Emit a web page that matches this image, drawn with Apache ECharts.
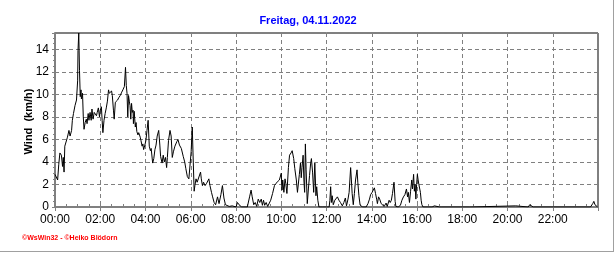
<!DOCTYPE html>
<html>
<head>
<meta charset="utf-8">
<script src="https://cdn.jsdelivr.net/npm/echarts@6/dist/echarts.min.js"></script>
<style>
html,body{margin:0;padding:0;background:#fff;}
#chart{width:616px;height:253px;}
</style>
</head>
<body>
<div id="chart"></div>
<script>
const titleText = 'Freitag, 04.11.2022';
const yAxisTitle = 'Wind  (km/h)';
const footerText = '\u00A9WsWin32 - \u00A9Heiko Bl\u00F6dorn';
const timeLabels = ['00:00','02:00','04:00','06:00','08:00','10:00','12:00','14:00','16:00','18:00','20:00','22:00'];
const yTickLabels = ['0','2','4','6','8','10','12','14'];

// time of day in minutes
const minutes = [
  0,3,7,10,13,17,20,22,24,26,30,33,37,40,44,46,49,53,57,60,61,63,65,67,69,70,73,75,77,80,
  83,85,88,90,93,96,98,101,104,107,110,112,115,118,120,123,125,127,130,133,136,139,142,144,147,150,152,155,157,160,
  163,166,169,173,177,180,184,187,189,191,193,195,197,199,201,203,205,207,208,210,213,215,217,220,222,226,228,231,233,235,
  237,241,244,247,250,253,255,259,262,265,268,271,275,278,280,284,287,290,293,296,298,301,305,308,311,314,318,323,326,330,
  335,340,344,347,351,355,359,361,364,366,369,371,374,377,381,386,388,391,394,398,402,408,411,415,418,422,426,431,435,440,
  444,448,452,456,462,470,475,480,484,488,495,510,516,520,523,527,531,535,539,543,547,550,553,556,560,564,568,572,577,582,
  586,590,595,600,602,604,607,610,612,615,619,622,626,629,633,636,640,643,645,648,651,653,655,658,660,662,664,666,669,672,
  675,678,680,683,686,689,692,694,697,700,710,720,727,729,731,733,735,738,742,749,753,757,762,766,770,773,777,780,782,784,
  786,788,791,794,797,801,803,806,809,815,825,830,834,837,841,844,847,850,853,855,858,861,865,869,873,878,881,886,889,892,
  895,899,902,904,910,916,920,924,928,932,935,937,940,943,946,948,951,953,955,957,959,961,963,965,967,969,971,973,976,1000,
  1006,1010,1020,1023,1026,1100,1222,1226,1255,1259,1264,1268,1420,1426,1429,1432,1439
];
// wind speed km/h
const wind = [
  2.9,2.8,2.4,3.8,4.8,4.6,3.6,4.4,3.1,5.4,5.4,6.2,6.8,6.3,6.8,7.7,8.3,9.0,9.5,11.2,13.9,15.45,12.1,9.8,10.4,9.6,10.1,8.0,6.9,7.5,
  7.8,7.4,8.3,7.7,8.4,7.7,8.7,7.8,8.4,8.5,8.1,8.4,8.8,8.0,8.6,8.9,7.7,6.6,7.7,8.3,8.8,9.4,10.4,10.1,10.2,10.3,9.9,8.6,7.8,9.3,
  9.2,9.5,9.7,9.9,10.2,10.4,10.7,12.4,10.8,10.1,8.0,9.9,9.4,9.0,7.8,9.2,8.4,8.6,7.4,8.5,7.1,7.5,6.7,6.4,6.6,6.2,5.9,5.4,5.6,5.1,
  5.3,5.9,6.8,7.7,5.4,5.0,5.2,3.9,4.3,5.1,5.5,6.3,6.8,5.5,4.5,3.9,4.6,4.0,4.4,3.5,4.4,5.9,6.8,6.3,4.4,4.9,5.4,5.8,6.0,5.5,
  5.2,4.5,4.0,3.4,2.7,2.5,2.5,4.9,7.1,4.8,1.4,1.9,2.5,2.2,2.3,3.1,2.5,1.9,2.2,1.9,2.1,2.5,1.9,1.3,0.9,0.4,0.2,0.9,0.3,1.1,
  1.9,0.8,0.2,0.1,0.05,0.1,0.1,0.0,0.4,0.2,0.0,0.0,0.9,1.5,0.9,0.2,0.4,0.05,0.7,0.4,0.7,0.15,0.6,0.15,0.4,0.05,0.1,0.6,1.2,1.9,
  2.1,2.0,2.4,3.0,1.5,2.4,1.3,2.5,2.1,1.2,3.5,4.6,4.8,5.0,4.3,3.4,2.4,1.3,1.4,2.9,3.9,2.6,3.5,4.6,2.4,1.3,5.6,3.3,0.3,1.6,
  2.8,3.9,4.3,3.1,1.3,3.9,1.0,1.8,0.6,0.0,0.0,0.0,0.0,0.6,1.8,0.4,1.0,0.2,0.6,0.9,0.6,0.4,0.1,0.4,0.8,0.1,0.7,1.3,2.4,3.5,
  2.4,1.2,0.2,1.2,2.4,3.3,2.2,1.0,0.2,0.0,0.0,0.3,0.7,1.1,1.3,1.5,1.7,1.2,0.7,0.3,0.9,0.7,0.3,0.15,0.05,0.35,0.05,0.6,0.4,0.6,
  1.2,2.2,0.5,0.05,0.0,0.15,0.6,0.9,1.1,1.6,0.9,1.3,0.4,1.4,2.4,1.6,2.9,1.4,2.0,0.7,2.0,2.9,2.4,2.0,2.0,1.3,0.6,0.2,0.0,0.0,
  0.1,0.0,0.0,0.15,0.0,0.0,0.1,0.0,0.0,0.2,0.2,0.0,0.0,0.3,0.5,0.2,0.0
];

const seriesData = minutes.map((m, i) => [m, wind[i]]);
const labelFont = '"Liberation Sans Narrow", "Liberation Sans", Arial, sans-serif';

const chart = echarts.init(document.getElementById('chart'), null, {renderer: 'canvas'});
chart.setOption({
  backgroundColor: '#ffffff',
  animation: false,
  title: {
    text: titleText,
    left: 'center',
    top: 10,
    textStyle: {color: '#0000ff', fontSize: 11, fontWeight: 'bold', fontFamily: '"Liberation Sans", Arial, sans-serif'}
  },
  grid: {left: 55, right: 18, top: 33, bottom: 46, show: true, borderColor: '#000', borderWidth: 1, backgroundColor: 'transparent'},
  xAxis: [{
    type: 'value', min: 0, max: 1440, interval: 120,
    axisLine: {show: true, onZero: false, lineStyle: {color: '#808080', width: 2}},
    axisTick: {show: true, inside: true, length: 4, lineStyle: {color: '#808080'}},
    minorTick: {show: true, splitNumber: 4, length: 3, lineStyle: {color: '#808080'}},
    axisLabel: {
      color: '#000', fontSize: 12, fontFamily: labelFont, margin: 7,
      showMaxLabel: false,
      formatter: v => timeLabels[Math.round(v / 120)] || ''
    },
    splitLine: {show: true, lineStyle: {color: '#808080', type: [4, 3], width: 1}}
  }, {
    type: 'value', min: 0, max: 1440, interval: 120, position: 'top',
    axisLine: {show: false},
    axisTick: {show: true, inside: true, length: 4, lineStyle: {color: '#808080'}},
    axisLabel: {show: false},
    splitLine: {show: false}
  }],
  yAxis: {
    type: 'value', min: 0, max: 15.45, interval: 2,
    axisLine: {show: true, lineStyle: {color: '#808080', width: 2}},
    axisTick: {show: true, length: 3, lineStyle: {color: '#808080'}},
    minorTick: {show: true, splitNumber: 4, length: 2, lineStyle: {color: '#808080'}},
    axisLabel: {
      color: '#000', fontSize: 12, fontFamily: labelFont, margin: 6,
      showMaxLabel: false,
      formatter: v => { const i = Math.round(v / 2); return (Math.abs(v - i * 2) < 1e-6 && yTickLabels[i]) ? yTickLabels[i] : ''; }
    },
    splitLine: {show: true, lineStyle: {color: '#808080', type: [4, 3], width: 1}}
  },
  series: [{
    type: 'line',
    data: seriesData,
    showSymbol: false,
    symbol: 'none',
    lineStyle: {color: '#000', width: 1},
    clip: true
  }],
  graphic: [
    {type: 'text', x: 28.5, y: 121.5, rotation: Math.PI / 2,
     style: {text: yAxisTitle, fill: '#000', font: 'bold 11px "Liberation Sans", Arial, sans-serif', align: 'center', verticalAlign: 'middle'}},
    {type: 'text', x: 22, y: 238.5,
     style: {text: footerText, fill: '#ff0000', font: 'bold 7px "Liberation Sans", Arial, sans-serif', align: 'left', verticalAlign: 'middle'}},
    {type: 'line', shape: {x1: 613.5, y1: 0, x2: 613.5, y2: 252}, style: {stroke: '#a0a0a0', lineWidth: 1}},
    {type: 'line', shape: {x1: 0, y1: 251.5, x2: 614, y2: 251.5}, style: {stroke: '#a0a0a0', lineWidth: 1}}
  ]
});
</script>
</body>
</html>
